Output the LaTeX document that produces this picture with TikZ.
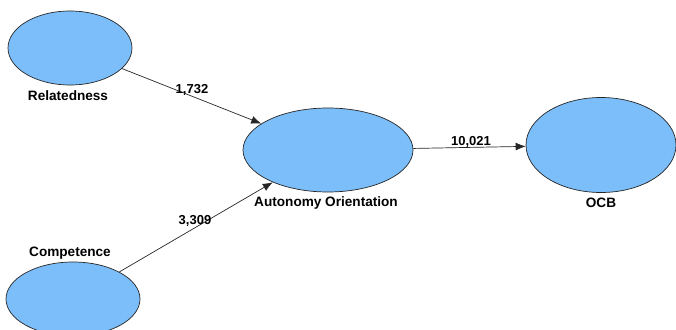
\documentclass[tikz,border=0pt]{standalone}
\usepackage{fontspec}
\setmainfont{Liberation Sans}
\usetikzlibrary{shapes.geometric,arrows.meta}
\definecolor{lv}{RGB}{123,190,250}
\tikzset{
  lvar/.style={ellipse, draw=black!85, fill=lv, line width=0.7pt, inner sep=0pt},
  lab/.style={font=\bfseries\fontsize{13.6}{15}\selectfont, inner sep=1pt},
  elab/.style={font=\bfseries\fontsize{13}{15}\selectfont, inner sep=1pt},
  path/.style={draw=black!85, line width=0.7pt, -{Latex[length=10pt,width=8pt]}},
}
\begin{document}
\begin{tikzpicture}[x=1pt,y=-1pt]
\useasboundingbox (0,0) rectangle (676,329);
\node[lvar, minimum width=124pt, minimum height=74pt] (rel) at (70,48) {};
\node[lvar, minimum width=134pt, minimum height=74pt] (comp) at (73,299) {};
\node[lvar, minimum width=170pt, minimum height=84pt] (auto) at (328,150) {};
\node[lvar, minimum width=150pt, minimum height=95pt] (ocb) at (601,145) {};
\node[lab] (relL) at (68,96) {Relatedness};
\node[lab] (compL) at (70,253) {Competence};
\node[lab] (autoL) at (326,203) {Autonomy Orientation};
\node[lab] (ocbL) at (601,203) {OCB};
\draw[path] (rel) -- (auto);
\draw[path] (comp) -- (auto);
\draw[path] (auto) -- (ocb);
\node[elab] (e1) at (192,90) {1,732};
\node[elab] (e2) at (195,221) {3,309};
\node[elab] (e3) at (471,142) {10,021};
\end{tikzpicture}
\end{document}
